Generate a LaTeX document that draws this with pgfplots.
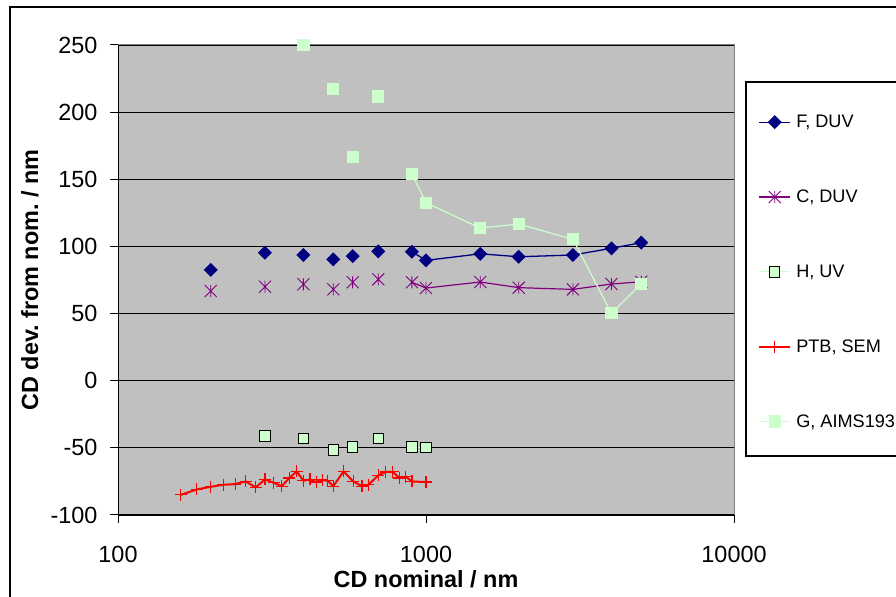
\documentclass[border=0pt]{standalone}
\usepackage{fontspec}
\setmainfont{Liberation Sans}
\usepackage{pgfplots}
\pgfplotsset{compat=1.18}

\definecolor{fduv}{RGB}{0,0,128}
\definecolor{cduv}{RGB}{128,0,128}
\definecolor{mint}{RGB}{204,255,204}
\definecolor{plotgray}{RGB}{192,192,192}
\definecolor{framegray}{RGB}{128,128,128}

% Excel-like star: X with a vertical bar
\pgfdeclareplotmark{xstar}{%
  \pgfpathmoveto{\pgfqpoint{0pt}{\pgfplotmarksize}}%
  \pgfpathlineto{\pgfqpoint{0pt}{-\pgfplotmarksize}}%
  \pgfpathmoveto{\pgfqpoint{-\pgfplotmarksize}{\pgfplotmarksize}}%
  \pgfpathlineto{\pgfqpoint{\pgfplotmarksize}{-\pgfplotmarksize}}%
  \pgfpathmoveto{\pgfqpoint{-\pgfplotmarksize}{-\pgfplotmarksize}}%
  \pgfpathlineto{\pgfqpoint{\pgfplotmarksize}{\pgfplotmarksize}}%
  \pgfusepathqstroke}

\begin{document}
\begin{tikzpicture}[x=1bp,y=1bp]
\path[use as bounding box] (0,0) rectangle (896,597);
\draw[black, line width=1.2bp] (10,-20) -- (10,590) -- (960,590);
\draw[black, line width=1.2bp] (746,515) rectangle (960,141);
\begin{axis}[
  at={(118bp,82bp)}, anchor=south west,
  width=616bp, height=470bp, scale only axis,
  clip=false,
  xmode=log, xmin=100, xmax=10000,
  ymin=-100, ymax=250,
  xtick={100,1000,10000}, xticklabels={100,1000,10000},
  xminorticks=false,
  ytick={-100,-50,0,50,100,150,200,250},
  yticklabels={-100,-50,0,50,100,150,200,250},
  xtick pos=bottom, ytick pos=left,
  tick align=outside, major tick length=8bp,
  tick style={black, line width=1bp},
  ymajorgrids, grid style={black, line width=0.9bp},
  axis background/.style={fill=plotgray},
  axis line style={framegray, line width=1bp},
  ticklabel style={font=\fontsize{23.5}{28}\selectfont},
  xticklabel style={yshift=-20bp},
  yticklabel style={xshift=-9bp},
  label style={font=\fontsize{23.5}{28}\selectfont\bfseries},
  xlabel={CD nominal / nm},
  ylabel={CD dev.\ from nom.\ / nm},
  xlabel style={at={(axis description cs:0.5,-0.136)}, anchor=center},
  ylabel style={at={(axis description cs:-0.143,0.5)}, anchor=center},
  unbounded coords=jump,
  legend image code/.code={\draw[mark repeat=2,mark phase=2] plot coordinates {(0bp,0bp) (15.5bp,0bp) (31bp,0bp)};},
  legend cell align=left,
  legend style={at={(axis description cs:1.039,0.9157)}, anchor=north west,
    draw=none, fill=none, inner sep=0pt, column sep=5bp,
    nodes={inner sep=0pt, minimum height=74.8bp},
    font=\fontsize{18.2}{22}\selectfont},
  after end axis/.code={
    \draw[black, line width=1bp] (rel axis cs:0,0) -- (rel axis cs:1,0);
    \draw[black, line width=1bp] (rel axis cs:0,0) -- (rel axis cs:0,1);
  },
]
% F, DUV
\addplot[color=fduv, line width=1.3bp, mark=square*, mark size=4.3bp,
  mark options={rotate=45, solid, fill=fduv}] coordinates {
  (200,82.5) (250,nan) (300,95.3) (350,nan) (400,93.6) (450,nan)
  (500,90.4) (540,nan) (578,92.8) (640,nan) (700,96.3) (800,nan)
  (900,96) (1000,89.6) (1500,94.5) (2000,92.3) (3000,93.6)
  (4000,98.6) (5000,102.8)
};
\addlegendentry{F, DUV}
% C, DUV
\addplot[color=cduv, line width=1.2bp, mark=xstar, mark size=6bp,
  mark options={line width=0.9bp}] coordinates {
  (200,66.8) (250,nan) (300,70) (350,nan) (400,71.8) (450,nan)
  (500,68) (540,nan) (578,73.3) (640,nan) (700,75.5) (800,nan)
  (900,73.3) (1000,69) (1500,73.5) (2000,69.3) (3000,68)
  (4000,72) (5000,73.7)
};
\addlegendentry{C, DUV}
% H, UV
\addplot[color=mint, line width=1bp, mark=square*, mark size=5.2bp,
  mark options={draw=black, fill=mint, line width=1bp}] coordinates {
  (300,-41.2) (350,nan) (400,-42.9) (450,nan) (500,-51.6) (540,nan)
  (578,-49.4) (640,nan) (700,-42.9) (800,nan) (900,-49.4) (1000,-49.9)
};
\addlegendentry{H, UV}
% PTB, SEM
\addplot[color=red, line width=2bp, mark=+, mark size=6bp,
  mark options={line width=1.2bp}] coordinates {
  (160,-85) (180,-81) (200,-79) (220,-77.5) (240,-77) (260,-75)
  (280,-79.5) (300,-73.5) (320,-76) (340,-78.5) (360,-72.5) (380,-67.5)
  (400,-74.5) (420,-73.5) (440,-75.5) (460,-74) (480,-74.5) (500,-78.5)
  (540,-67.5) (580,-75) (620,-78.5) (650,-77.5) (700,-70.5) (740,-68)
  (780,-67.8) (820,-72.5) (860,-71.5) (900,-75) (1000,-75.5)
};
\addlegendentry{PTB, SEM}
% G, AIMS193
\addplot[color=mint, line width=1.2bp, mark=square*, mark size=5.5bp,
  mark options={fill=mint}] coordinates {
  (400,250) (450,nan) (500,217.4) (540,nan) (578,166.6) (640,nan)
  (700,211.7) (800,nan) (900,154) (1000,132.5) (1500,113.7)
  (2000,116.7) (3000,105.3) (4000,50.2) (5000,72.2)
};
\addlegendentry{G, AIMS193}
\end{axis}
\end{tikzpicture}
\end{document}
